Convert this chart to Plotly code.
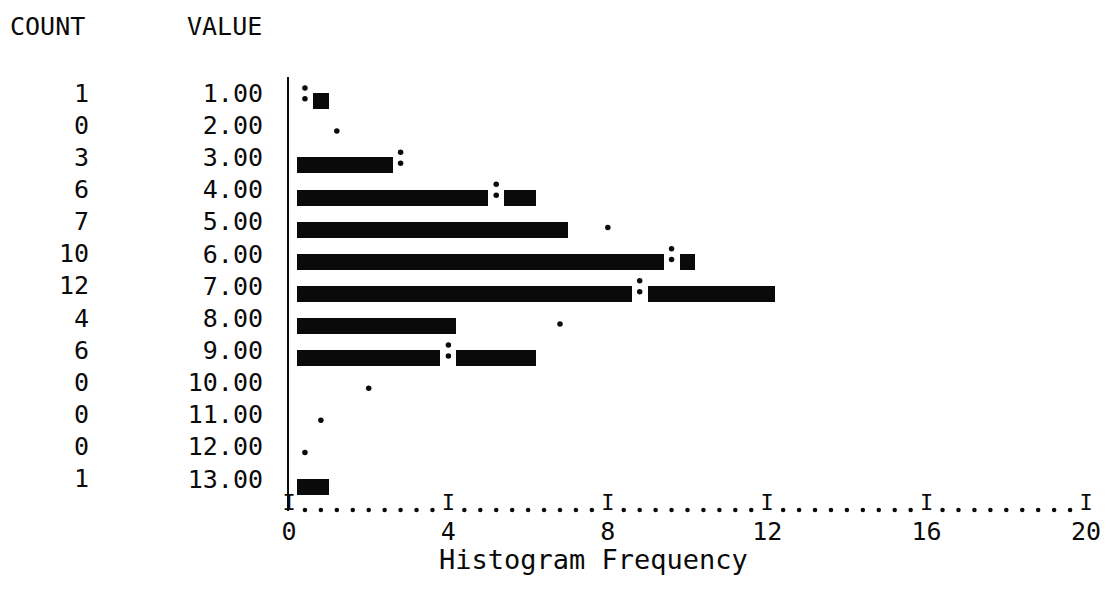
import plotly.graph_objects as go

# ---- data ----
VALUES = [1, 2, 3, 4, 5, 6, 7, 8, 9, 10, 11, 12, 13]
VALUE_LABELS = ["1.00", "2.00", "3.00", "4.00", "5.00", "6.00", "7.00",
                "8.00", "9.00", "10.00", "11.00", "12.00", "13.00"]
COUNTS = [1, 0, 3, 6, 7, 10, 12, 4, 6, 0, 0, 0, 1]
# expected (normal curve) frequency markers
EXPECTED = [0.4, 1.2, 2.8, 5.2, 8.0, 9.6, 8.8, 6.8, 4.0, 2.0, 0.8, 0.4, None]
X_TICKS = [0, 4, 8, 12, 16, 20]
X_TICK_LABELS = ["0", "4", "8", "12", "16", "20"]

# ---- style constants ----
FONT = "DejaVu Sans Mono"
INK = "#0a0a0a"
CELL = 0.4          # one printer character cell, in frequency units
BAR_START = 0.2     # bars start one half-cell after the axis
BAR_W = 0.5
PAGE = 8            # default body margin of the html page
W, H = 1113 - PAGE, 591 - PAGE
L, R, T, B = 289 - PAGE, 16, 77 - PAGE, 80
Y_TOP, Y_BOT = 0.5, 14.0
AXIS_ROW_I = 13.8
AXIS_ROW_DOT = 13.97

# bar lengths quantised to whole character cells, as on the printout
bar_len = [CELL * ((c * 5) // 2) for c in COUNTS]

fig = go.Figure()

fig.add_trace(go.Bar(
    orientation="h", y=VALUES, x=bar_len, base=[BAR_START] * len(VALUES),
    offset=0, width=BAR_W, marker=dict(color=INK, line=dict(width=0)),
    customdata=COUNTS, hovertemplate="value %{y}: %{customdata}<extra></extra>",
    showlegend=False,
))

# white cell where the curve character replaces the bar character
gap_y, gap_base = [], []
colon_x, colon_y = [], []
dot_x, dot_y = [], []
for v, c, e in zip(VALUES, COUNTS, EXPECTED):
    if e is None:
        continue
    if e < c:
        gap_y.append(v)
        gap_base.append(e - CELL / 2)
        colon_x += [e, e]
        colon_y += [v - 0.16, v + 0.18]
    else:
        dot_x.append(e)
        dot_y.append(v + 0.18)

fig.add_trace(go.Bar(
    orientation="h", y=gap_y, x=[CELL] * len(gap_y), base=gap_base,
    offset=0, width=BAR_W, marker=dict(color="white", line=dict(width=0)),
    hoverinfo="skip", showlegend=False,
))
fig.add_trace(go.Scatter(
    x=colon_x + dot_x, y=colon_y + dot_y, mode="markers",
    marker=dict(color=INK, size=5.5, symbol="circle"),
    hoverinfo="skip", showlegend=False, cliponaxis=False,
))

# printer-style horizontal axis: "I.........I.........I"
axis_dots = []
for a, b in zip(X_TICKS[:-1], X_TICKS[1:]):
    n = int(round((b - a) / CELL))
    axis_dots += [a + CELL * k for k in range(1, n)]
fig.add_trace(go.Scatter(
    x=axis_dots, y=[AXIS_ROW_DOT] * len(axis_dots), mode="markers",
    marker=dict(color=INK, size=4.5), hoverinfo="skip", showlegend=False,
    cliponaxis=False,
))
fig.add_trace(go.Scatter(
    x=X_TICKS, y=[AXIS_ROW_I] * len(X_TICKS), mode="text",
    text=["I"] * len(X_TICKS), textposition="middle center",
    textfont=dict(family=FONT, size=22, color=INK),
    hoverinfo="skip", showlegend=False, cliponaxis=False,
))


def px_to_paper_x(px):
    return (px - PAGE - L) / (W - L - R)


def px_to_paper_y(py):
    return (H - B - (py - PAGE)) / (H - T - B)


annotations = []
# COUNT column
for v, c in zip(VALUES, COUNTS):
    annotations.append(dict(
        x=px_to_paper_x(88), xref="paper", xanchor="right",
        y=v, yref="y", yanchor="middle", text=str(c), showarrow=False,
        font=dict(family=FONT, size=25, color=INK),
    ))
# headers
annotations.append(dict(
    x=px_to_paper_x(84), xref="paper", xanchor="right",
    y=px_to_paper_y(27), yref="paper", yanchor="middle", text="COUNT",
    showarrow=False, font=dict(family=FONT, size=25, color=INK)))
annotations.append(dict(
    x=px_to_paper_x(264), xref="paper", xanchor="right",
    y=px_to_paper_y(27), yref="paper", yanchor="middle", text="VALUE",
    showarrow=False, font=dict(family=FONT, size=25, color=INK)))
# axis caption
annotations.append(dict(
    x=px_to_paper_x(598), xref="paper", xanchor="center",
    y=px_to_paper_y(559), yref="paper", yanchor="middle",
    text="Histogram Frequency", showarrow=False,
    font=dict(family=FONT, size=27, color=INK)))

fig.update_layout(
    width=W, height=H,
    margin=dict(l=L, r=R, t=T, b=B, pad=0),
    paper_bgcolor="white", plot_bgcolor="white",
    barmode="overlay", bargap=0,
    annotations=annotations,
    font=dict(family=FONT, size=25, color=INK),
    xaxis=dict(
        range=[0, 20], tickvals=X_TICKS, ticktext=X_TICK_LABELS,
        showgrid=False, zeroline=False, showline=False, ticks="",
        tickfont=dict(family=FONT, size=25, color=INK),
        ticklabelstandoff=3, fixedrange=True,
    ),
    yaxis=dict(
        range=[Y_BOT, Y_TOP], tickvals=VALUES, ticktext=VALUE_LABELS,
        showgrid=False, zeroline=False, showline=True, linecolor=INK,
        linewidth=2, ticks="", tickfont=dict(family=FONT, size=25, color=INK),
        ticklabelstandoff=19, fixedrange=True,
    ),
)

fig.write_html("out.html")
